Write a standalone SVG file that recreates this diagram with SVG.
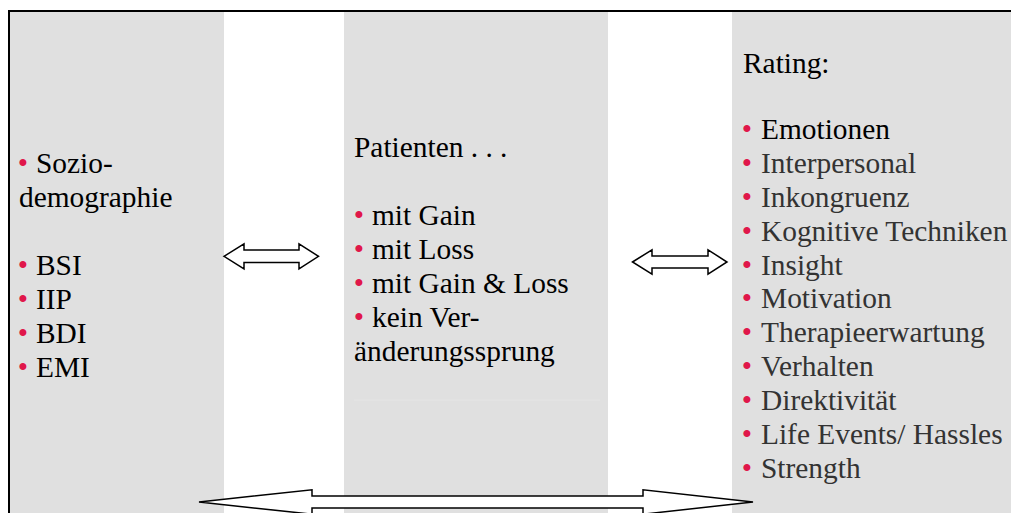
<svg xmlns="http://www.w3.org/2000/svg" width="1011" height="513" viewBox="0 0 1011 513">
<style>
.col{fill:#e0e0e0}
.t{font-family:"Liberation Serif","Times New Roman",serif;font-size:29.4px;fill:#000}
.g{fill:#333}
.b{font-family:"Liberation Serif","Times New Roman",serif;font-size:29.4px;fill:#e0174a;text-anchor:middle}
.arr{fill:#fff;stroke:#000;stroke-width:1.5;stroke-linejoin:miter}
</style>
<rect width="1011" height="513" fill="#fff"/>
<g id="left">
<rect class="col" x="10" y="12" width="214" height="501"/>
<text class="b" x="23" y="173">•</text><text class="t" x="36" y="173">Sozio-</text>
<text class="t" x="19" y="207">demographie</text>
<text class="b" x="23" y="275">•</text><text class="t" x="36" y="275">BSI</text>
<text class="b" x="23" y="309">•</text><text class="t" x="36" y="309">IIP</text>
<text class="b" x="23" y="343">•</text><text class="t" x="36" y="343">BDI</text>
<text class="b" x="23" y="377">•</text><text class="t" x="36" y="377">EMI</text>
</g>
<g id="middle">
<rect class="col" x="344" y="12" width="264" height="501"/>
<line x1="354" y1="400" x2="600" y2="400" stroke="#e5e5e5" stroke-width="1"/>
<text class="t" x="354" y="157">Patienten . . .</text>
<text class="b" x="359" y="225">•</text><text class="t" x="372" y="225">mit Gain</text>
<text class="b" x="359" y="259">•</text><text class="t" x="372" y="259">mit Loss</text>
<text class="b" x="359" y="293">•</text><text class="t" x="372" y="293">mit Gain &amp; Loss</text>
<text class="b" x="359" y="327">•</text><text class="t" x="372" y="327">kein Ver-</text>
<text class="t" x="354" y="361">änderungssprung</text>
</g>
<g id="right">
<rect class="col" x="732" y="12" width="279" height="501"/>
<text class="t" x="743" y="73">Rating:</text>
<text class="b" x="747" y="139">•</text><text class="t" x="761" y="139">Emotionen</text>
<text class="b" x="747" y="173">•</text><text class="t g" x="761" y="173">Interpersonal</text>
<text class="b" x="747" y="207">•</text><text class="t g" x="761" y="207">Inkongruenz</text>
<text class="b" x="747" y="241">•</text><text class="t g" x="761" y="241">Kognitive Techniken</text>
<text class="b" x="747" y="275">•</text><text class="t g" x="761" y="275">Insight</text>
<text class="b" x="747" y="308">•</text><text class="t g" x="761" y="308">Motivation</text>
<text class="b" x="747" y="342">•</text><text class="t g" x="761" y="342">Therapieerwartung</text>
<text class="b" x="747" y="376">•</text><text class="t g" x="761" y="376">Verhalten</text>
<text class="b" x="747" y="410">•</text><text class="t g" x="761" y="410">Direktivität</text>
<text class="b" x="747" y="444">•</text><text class="t g" x="761" y="444">Life Events/ Hassles</text>
<text class="b" x="747" y="478">•</text><text class="t g" x="761" y="478">Strength</text>
</g>
<rect x="9" y="11" width="1012" height="512" fill="none" stroke="#000" stroke-width="2"/>
<g id="connectors">
<path class="arr" d="M224,256.3 L244,243.8 L244,250 L299,250 L299,243.8 L318.5,256.3 L299,268.8 L299,262.6 L244,262.6 L244,268.8 Z"/>
<path class="arr" d="M632.5,262 L652,249.8 L652,256 L708,256 L708,249.8 L727,262 L708,274.2 L708,268 L652,268 L652,274.2 Z"/>
<path class="arr" d="M199,502 L312,489.8 L312,496 L643,496 L643,489.8 L753,502 L643,514.2 L643,508 L312,508 L312,514.2 Z"/>
</g>
</svg>
